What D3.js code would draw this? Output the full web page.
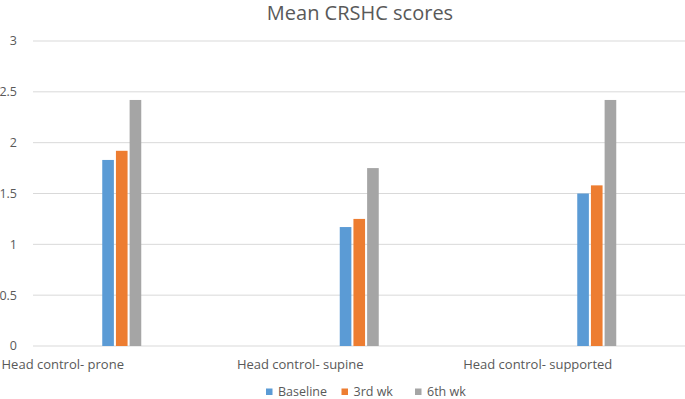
<!DOCTYPE html>
<html>
<head>
<meta charset="utf-8">
<script src="https://cdn.jsdelivr.net/npm/d3@7"></script>
<style>
  body { margin: 0; background: #fff; }
  text { font-family: "Open Sans", "Noto Sans", sans-serif; fill: #595959; }
</style>
</head>
<body>
<svg id="chart" width="685" height="399"></svg>
<script>
const categories = ["Head control- prone", "Head control- supine", "Head control- supported"];
const seriesNames = ["Baseline", "3rd wk", "6th wk"];
const baseline = [1.83, 1.17, 1.5];
const week3 = [1.92, 1.25, 1.58];
const week6 = [2.42, 1.75, 2.42];
const yTicks = [0, 0.5, 1, 1.5, 2, 2.5, 3];
const colors = ["#5B9BD5", "#ED7D31", "#A5A5A5"];

const svg = d3.select("#chart");

// rows for each category
const rows = categories.map((c, i) => ({
    cat: c,
    vals: [baseline[i], week3[i], week6[i]]
}));

const y = d3.scaleLinear().domain([0, 3]).range([346, 41]);
// the original plot is cut off on the left, so the band range starts near 0
const x = d3.scaleBand().domain(categories).range([3, 715.5]);
const xInner = d3.scaleBand().domain(seriesNames).range([0, 39]).paddingInner(0.15);

// gridlines
svg.append("g")
    .selectAll("line")
    .data(yTicks)
    .join("line")
    .attr("x1", 33).attr("x2", 685)
    .attr("y1", d => y(d)).attr("y2", d => y(d))
    .attr("stroke", "#D9D9D9")
    .attr("stroke-width", 1);

// y tick labels
svg.append("g")
    .selectAll("text")
    .data(yTicks)
    .join("text")
    .attr("x", 17)
    .attr("y", d => y(d))
    .attr("dy", "0.35em")
    .attr("text-anchor", "end")
    .style("font-size", "12.5px")
    .text(d => d);

// bars
const groups = svg.append("g")
    .selectAll("g")
    .data(rows)
    .join("g")
    .attr("transform", d => `translate(${x(d.cat) + x.bandwidth() / 2 - 19.5},0)`);

groups.selectAll("rect")
    .data(d => d.vals.map((v, j) => ({ name: seriesNames[j], v: v, j: j })))
    .join("rect")
    .attr("x", d => xInner(d.name))
    .attr("width", xInner.bandwidth())
    .attr("y", d => y(d.v))
    .attr("height", d => y(0) - y(d.v))
    .attr("fill", d => colors[d.j]);

// category labels (sit left of the bars in the original)
svg.append("g")
    .selectAll("text")
    .data(categories)
    .join("text")
    .attr("x", d => x(d) + x.bandwidth() / 2 - 59)
    .attr("y", 369)
    .attr("text-anchor", "middle")
    .style("font-size", "13px")
    .text(d => d);

// title
svg.append("text")
    .attr("x", 360)
    .attr("y", 20)
    .attr("text-anchor", "middle")
    .style("font-size", "20px")
    .text("Mean CRSHC scores");

// legend
const legendX = [266, 341.5, 415];
const legend = svg.append("g")
    .selectAll("g")
    .data(seriesNames)
    .join("g")
    .attr("transform", (d, i) => `translate(${legendX[i]},391.5)`);

legend.append("rect")
    .attr("width", 6.5).attr("height", 6.5)
    .attr("y", -3)
    .attr("fill", (d, i) => colors[i]);

legend.append("text")
    .attr("x", 12)
    .attr("y", 0)
    .attr("dy", "0.35em")
    .style("font-size", "12.5px")
    .text(d => d);
</script>
</body>
</html>
